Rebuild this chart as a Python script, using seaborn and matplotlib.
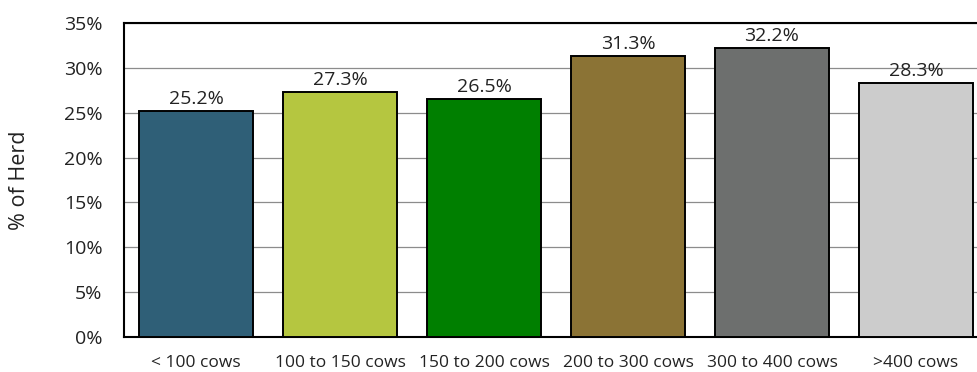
import matplotlib
matplotlib.use("Agg")
import matplotlib.pyplot as plt
import seaborn as sns
import pandas as pd
from matplotlib.ticker import MultipleLocator, FuncFormatter

# Herd-size groups and their share of the herd (%)
categories = ["< 100 cows", "100 to 150 cows", "150 to 200 cows",
              "200 to 300 cows", "300 to 400 cows", ">400 cows"]
values = [25.2, 27.3, 26.5, 31.3, 32.2, 28.3]
colors = ["#2f5f77", "#b5c640", "#007f00", "#8b7335", "#6d6f6e", "#cccccc"]

df = pd.DataFrame({"group": categories, "share": values})

sns.set_theme(style="white")
plt.rcParams["font.family"] = ["Open Sans", "DejaVu Sans"]

fig = plt.figure(figsize=(9.77, 3.72), dpi=100)
# axes extends slightly past the right edge of the canvas
ax = fig.add_axes([124 / 977, 1 - 337 / 372, 864 / 977, 314 / 372])

sns.barplot(data=df, x="group", y="share", hue="group", palette=colors,
            legend=False, width=0.785, edgecolor="black", linewidth=1.4,
            saturation=1, ax=ax, zorder=3)

ax.set_xlim(-0.5, 5.5)
ax.set_ylim(0, 35)
ax.yaxis.set_major_locator(MultipleLocator(5))
ax.yaxis.set_major_formatter(FuncFormatter(lambda v, _: f"{v:.0f}%"))
ax.grid(axis="y", color="#8c8c8c", linewidth=0.9, zorder=0)
ax.set_axisbelow(True)

for side in ["left", "bottom", "top"]:
    ax.spines[side].set_visible(True)
    ax.spines[side].set_color("black")
    ax.spines[side].set_linewidth(1.5)
ax.spines["right"].set_visible(False)

for container in ax.containers:
    ax.bar_label(container, fmt="%.1f%%", padding=2.2, fontsize=14, color="#222222")

ax.set_xlabel("")
ax.set_ylabel("% of Herd", fontsize=15.5, color="#222222", labelpad=24)
ax.tick_params(axis="y", labelsize=14, colors="#222222", length=0, pad=15.5)
ax.tick_params(axis="x", labelsize=12.5, colors="#222222", length=0, pad=13)

fig.savefig("out.png", dpi=100)
